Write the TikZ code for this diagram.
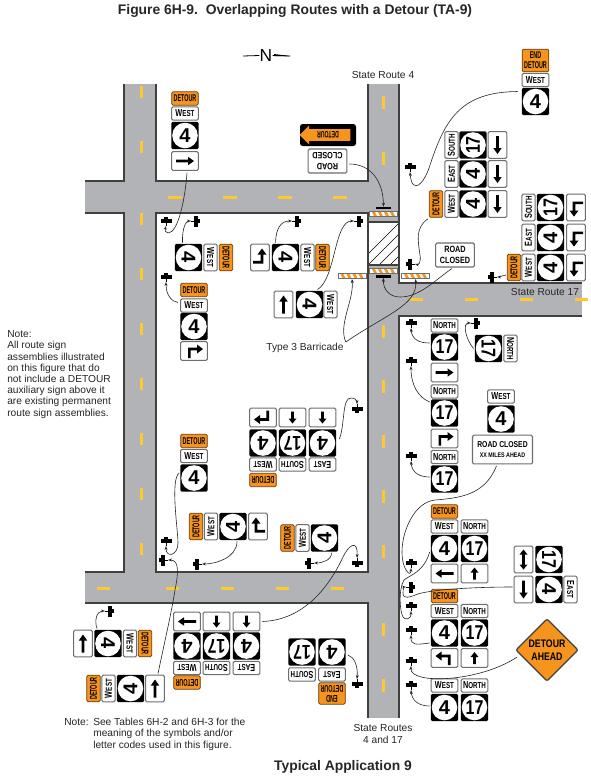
\documentclass[tikz,border=0pt]{standalone}
\usepackage{fontspec}
\setmainfont{Liberation Sans}
\newfontfamily\signfont[FakeStretch=0.72]{Liberation Sans}
\newfontfamily\detfont[FakeStretch=0.55]{Liberation Sans}
\newfontfamily\closedfont[FakeStretch=0.8]{Liberation Sans}
\usetikzlibrary{arrows.meta,shapes.geometric,shapes.arrows}
\definecolor{roadgray}{HTML}{B1B3B6}
\definecolor{plategray}{HTML}{6D6E71}
\definecolor{detorange}{HTML}{F7941D}
\definecolor{dashyellow}{HTML}{FFC82E}
\newcommand{\capword}[2]{{\fontsize{7.6}{8}\selectfont #1}#2}
\newcommand{\postmark}[4]{%
  \begin{scope}[shift={(#2,#3)},rotate=#4]
    \fill[black] (-5.5,-1.7) rectangle (5.5,1.7);
    \fill[black] (-1.6,-4) rectangle (1.6,2.4);
    \fill[black] (-0.4,0) rectangle (0.4,5);
    \coordinate (#1) at (0,5);
  \end{scope}}
\tikzset{
  plate/.style={draw=plategray,fill=white,rounded corners=1pt,line width=0.8pt,minimum width=20pt,minimum height=10pt,inner sep=0pt,font=\signfont\bfseries\fontsize{6.5}{7}\selectfont},
  detplate/.style={plate,fill=detorange,draw=black!60!detorange,line width=0.6pt,font=\detfont\bfseries\fontsize{7.4}{7.4}\selectfont},
  arrowplate/.style={plate,minimum height=14pt},
  shield/.style={fill=black,rounded corners=1pt,minimum size=20.4pt,inner sep=0pt,font=\bfseries\fontsize{15}{15}\selectfont,path picture={\fill[white] (path picture bounding box.center) circle (9.6pt);}},
  shieldtwo/.style={shield,font=\closedfont\bfseries\fontsize{15}{15}\selectfont},
  closedplate/.style={plate,minimum width=29pt,minimum height=18pt,align=center,font=\closedfont\bfseries\fontsize{6.8}{8.4}\selectfont},
  conn/.style={draw=black!85,line width=0.45pt,-{Stealth[length=3pt,width=2.2pt]}},
  roadedge/.style={draw=black!75,line width=0.8pt},
  barricade/.style={draw=plategray,fill=white,minimum width=21pt,minimum height=4pt,inner sep=0pt,line width=0.5pt,path picture={
    \begin{scope}[shift={(path picture bounding box.center)}]
      \foreach \k in {-12,-6,0,6} \fill[detorange] (\k,-3) -- (\k+3,-3) -- (\k+6,3) -- (\k+3,3) -- cycle;
    \end{scope}}},
  barmark/.style={fill=black,minimum width=11pt,minimum height=1.6pt,inner sep=0pt},
  label/.style={font=\fontsize{7.65}{8.4}\selectfont,text=black!85,inner sep=0pt},
  longarrow/.pic={\fill[black] (-9,-1.3) -- (3,-1.3) -- (3,-4.2) -- (9,0) -- (3,4.2) -- (3,1.3) -- (-9,1.3) -- cycle;},
  shortarrow/.pic={\fill[black] (-1.3,6) -- (-1.3,-1) -- (-4,-1) -- (0,-6) -- (4,-1) -- (1.3,-1) -- (1.3,6) -- cycle;},
  twinarrow/.pic={\fill[black] (-5,-1.3) -- (5,-1.3) -- (5,-4) -- (10,0) -- (5,4) -- (5,1.3) -- (-5,1.3) -- (-5,4) -- (-10,0) -- (-5,-4) -- cycle;},
  turnright/.pic={\fill[black] (-6,7) -- (-6,-3.3) -- (3,-3.3) -- (3,-6.5) -- (9,-2) -- (3,2.5) -- (3,-0.7) -- (-3.4,-0.7) -- (-3.4,7) -- cycle;},
  turnleft/.pic={\fill[black] (6,7) -- (6,-3.3) -- (-3,-3.3) -- (-3,-6.5) -- (-9,-2) -- (-3,2.5) -- (-3,-0.7) -- (3.4,-0.7) -- (3.4,7) -- cycle;},
}
\begin{document}
\begin{tikzpicture}[x=0.75pt,y=-0.75pt]
\useasboundingbox (0,0) rectangle (590,783);
\fill[white] (0,0) rectangle (590,783);
% roads
\fill[roadgray] (124,84) rectangle (156,603);
\fill[roadgray] (85,181) rectangle (399,213);
\fill[roadgray] (85,572) rectangle (399,603);
\fill[roadgray] (368,84) rectangle (399,718);
\fill[roadgray] (399,283) rectangle (582,316);
\draw[roadedge] (124,84) -- (124,181) -- (85,181);
\draw[roadedge] (156,84) -- (156,181) -- (368,181) -- (368,84);
\draw[roadedge] (85,213) -- (124,213) -- (124,572) -- (85,572);
\draw[roadedge] (156,213) -- (368,213) -- (368,572) -- (156,572) -- cycle;
\draw[roadedge] (85,603) -- (368,603) -- (368,718);
\draw[roadedge] (399,84) -- (399,283) -- (582,283);
\draw[roadedge] (582,316) -- (399,316) -- (399,718);
\foreach \y in {86,141,213,268,323,378,433,488,543} \fill[dashyellow] (139.5,\y) rectangle (142.5,\y+12);
\foreach \y in {96,152,325,380,435,490,545,623,679} \fill[dashyellow] (381.5,\y) rectangle (384.5,\y+13);
\foreach \x in {168,223,278,333} \fill[dashyellow] (\x,195.5) rectangle (\x+14,198.5);
\foreach \x in {410,465,520,575} \fill[dashyellow] (\x,297.5) rectangle (\x+13,300.5);
\foreach \x in {97,166,221,276,331} \fill[dashyellow] (\x,586.5) rectangle (\x+13,589.5);
% closed section
\fill[white] (368,222) rectangle (399,265);
\begin{scope}
  \clip (368,222) rectangle (399,265);
  \foreach \k in {0,...,7} \draw[black,line width=0.5pt] (356+\k*11,266) -- (356+\k*11+45,221);
\end{scope}
\draw[roadedge] (368,222) rectangle (399,265);
\node[barricade] (bara) at (383.5,214) {};
\node[barricade] (barb) at (383.5,271) {};
\node[barricade] (barc) at (352,276) {};
\node[barricade] (bard) at (415.5,276) {};
\node[barmark] (marka) at (383.5,208) {};
\node[barmark] (markb) at (383.5,276.5) {};
% north arrow
\node[font=\fontsize{13}{13}\selectfont,inner sep=0pt] (northmark) at (266,55.5) {N};
\coordinate (northw) at (243,56);
\coordinate (northe) at (290,56);
\draw[black,line width=0.6pt] (northw) -- (northmark.west);
\draw[black,line width=0.6pt] (northmark.east) -- (northe);
\fill[black] (274,54) -- (290,56) -- (274,56) -- cycle;
% end detour, top right
\node[detplate,minimum height=17pt,align=center] (enda) at (535.5,60.5) {END\\DETOUR};
\node[plate] (endb) at (535.5,80) {\capword{W}{EST}};
\node[shield] (endc) at (535.5,101.5) {4};
% three rows at the closure
\node[plate,rotate=90] (rowa) at (451.5,145) {\capword{S}{OUTH}};
\node[shieldtwo,rotate=90] (rowb) at (473,145) {17};
\node[arrowplate,rotate=90] (rowc) at (497.5,145) {};
\pic[rotate=-90] at (rowc) {longarrow};
\node[plate,rotate=90] (rowd) at (451.5,174) {\capword{E}{AST}};
\node[shield,rotate=90] (rowe) at (473,174) {4};
\node[arrowplate,rotate=90] (rowf) at (497.5,174) {};
\pic[rotate=-90] at (rowf) {longarrow};
\node[detplate,rotate=90] (rowg) at (436,204) {DETOUR};
\node[plate,rotate=90] (rowh) at (451.5,204) {\capword{W}{EST}};
\node[shield,rotate=90] (rowi) at (473,204) {4};
\node[arrowplate,rotate=90] (rowj) at (497.5,204) {};
\pic[rotate=-90] at (rowj) {longarrow};
% rows at route 17
\node[plate,rotate=90] (turna) at (528.5,207.5) {\capword{S}{OUTH}};
\node[shieldtwo,rotate=90] (turnb) at (550.5,207.5) {17};
\node[arrowplate,rotate=90] (turnc) at (576,207.5) {};
\pic[rotate=90] at (turnc) {turnleft};
\node[plate,rotate=90] (turnd) at (528.5,237.5) {\capword{E}{AST}};
\node[shield,rotate=90] (turne) at (550.5,237.5) {4};
\node[arrowplate,rotate=90] (turnf) at (576,237.5) {};
\pic[rotate=90] at (turnf) {turnleft};
\node[detplate,rotate=90] (turng) at (514,267.5) {DETOUR};
\node[plate,rotate=90] (turnh) at (528.5,267.5) {\capword{W}{EST}};
\node[shield,rotate=90] (turni) at (550.5,267.5) {4};
\node[arrowplate,rotate=90] (turnj) at (576,267.5) {};
\pic[rotate=90] at (turnj) {turnleft};
% closure signs
\node[fill=black,rounded corners=2pt,minimum width=42pt,minimum height=16.5pt,inner sep=0pt] (blacksign) at (328,135) {};
\node[single arrow,fill=detorange,rotate=180,minimum height=38pt,minimum width=14pt,single arrow head extend=1.5pt,inner sep=0pt,font=\detfont\bfseries\fontsize{7}{7}\selectfont] (detarrow) at (328,135) {DETOUR};
\node[closedplate,rotate=180] (closeda) at (327.5,161) {ROAD\\CLOSED};
\node[closedplate] (closedb) at (455,255) {ROAD\\CLOSED};
% top left assembly
\node[detplate] (lefta) at (185,98.5) {DETOUR};
\node[plate] (leftb) at (185,113.5) {\capword{W}{EST}};
\node[shield] (leftc) at (185,135.5) {4};
\node[arrowplate] (leftd) at (185,161) {};
\pic at (leftd) {longarrow};
% inside the block, upper
\node[shield,rotate=-90] (blockc) at (188.5,257.5) {4};
\node[plate,rotate=-90] (blockb) at (210.5,257.5) {\capword{W}{EST}};
\node[detplate,rotate=-90] (blocka) at (226,257.5) {DETOUR};
\node[arrowplate,rotate=-90] (nextd) at (260,257.5) {};
\pic[rotate=-90] at (nextd) {turnleft};
\node[shield,rotate=-90] (nextc) at (285.5,257.5) {4};
\node[plate,rotate=-90] (nextb) at (307.5,257.5) {\capword{W}{EST}};
\node[detplate,rotate=-90] (nexta) at (322.5,257.5) {DETOUR};
\node[arrowplate,rotate=-90] (thrud) at (283.5,304.5) {};
\pic[rotate=90] at (thrud) {longarrow};
\node[shield,rotate=-90] (thruc) at (309.5,304.5) {4};
\node[plate,rotate=-90] (thrub) at (330.5,304.5) {\capword{W}{EST}};
\node[detplate] (sidea) at (194,290) {DETOUR};
\node[plate] (sideb) at (194,305.5) {\capword{W}{EST}};
\node[shield] (sidec) at (194,326.5) {4};
\node[arrowplate] (sided) at (194,351) {};
\pic at (sided) {turnright};
% inside the block, lower
\node[detplate] (lowa) at (194,441) {DETOUR};
\node[plate] (lowb) at (194,456) {\capword{W}{EST}};
\node[shield] (lowc) at (194,478) {4};
\node[detplate,rotate=90] (crossa) at (196,526.5) {DETOUR};
\node[plate,rotate=90] (crossb) at (211,526.5) {\capword{W}{EST}};
\node[shield,rotate=90] (crossc) at (233,526.5) {4};
\node[arrowplate,rotate=90] (crossd) at (258,526.5) {};
\pic[rotate=90] at (crossd) {turnright};
\node[detplate,rotate=90] (neara) at (287.5,538) {DETOUR};
\node[plate,rotate=90] (nearb) at (302.5,538) {\capword{W}{EST}};
\node[shield,rotate=90] (nearc) at (324.5,538) {4};
\node[detplate,rotate=180] (uppa) at (263,480) {DETOUR};
\node[plate,rotate=180] (uppb) at (263,464.5) {\capword{W}{EST}};
\node[shield,rotate=180] (uppc) at (263,443) {4};
\node[arrowplate,rotate=180] (uppd) at (263,417.5) {};
\pic[rotate=180] at (uppd) {turnright};
\node[plate,rotate=180] (uppe) at (292.5,464.5) {\capword{S}{OUTH}};
\node[shieldtwo,rotate=180] (uppf) at (292.5,443) {17};
\node[arrowplate,rotate=180] (uppg) at (292.5,417.5) {};
\pic[rotate=180] at (uppg) {shortarrow};
\node[plate,rotate=180] (upph) at (322.5,464.5) {\capword{E}{AST}};
\node[shield,rotate=180] (uppi) at (322.5,443) {4};
\node[arrowplate,rotate=180] (uppj) at (322.5,417.5) {};
\pic[rotate=180] at (uppj) {shortarrow};
% right side, route 17
\node[plate] (norta) at (444.5,325.5) {\capword{N}{ORTH}};
\node[shieldtwo] (nortb) at (444.5,347) {17};
\node[arrowplate] (nortc) at (444.5,372.5) {};
\pic at (nortc) {longarrow};
\node[plate] (nortd) at (444.5,391.5) {\capword{N}{ORTH}};
\node[shieldtwo] (norte) at (444.5,413) {17};
\node[arrowplate] (nortf) at (444.5,438.5) {};
\pic at (nortf) {turnright};
\node[plate] (nortg) at (444.5,457) {\capword{N}{ORTH}};
\node[shieldtwo] (north) at (444.5,479) {17};
\node[shieldtwo,rotate=-90] (sidenb) at (488.5,348.5) {17};
\node[plate,rotate=-90] (sidena) at (510.5,348.5) {\capword{N}{ORTH}};
\node[plate] (aheada) at (501,396.5) {\capword{W}{EST}};
\node[shield] (aheadb) at (501,419) {4};
\node[plate,minimum width=45pt,minimum height=21.5pt,align=center,font=\closedfont\bfseries\fontsize{6.4}{8}\selectfont] (aheadc) at (502.5,449.5) {ROAD CLOSED\\{\fontsize{5}{6}\selectfont XX MILES AHEAD}};
% right side, both routes
\node[detplate] (botha) at (444.5,511.5) {DETOUR};
\node[plate] (bothb) at (444.5,526.5) {\capword{W}{EST}};
\node[plate] (bothc) at (474.5,526.5) {\capword{N}{ORTH}};
\node[shield] (bothd) at (444.5,548.5) {4};
\node[shieldtwo] (bothe) at (474.5,548.5) {17};
\node[arrowplate] (bothf) at (444.5,573.5) {};
\pic[rotate=180] at (bothf) {longarrow};
\node[arrowplate] (bothg) at (474.5,573.5) {};
\pic at (bothg) {shortarrow};
\node[detplate] (turnwa) at (444.5,596) {DETOUR};
\node[plate] (turnwb) at (444.5,611) {\capword{W}{EST}};
\node[plate] (turnwc) at (474.5,611) {\capword{N}{ORTH}};
\node[shield] (turnwd) at (444.5,633) {4};
\node[shieldtwo] (turnwe) at (474.5,633) {17};
\node[arrowplate] (turnwf) at (444.5,658) {};
\pic at (turnwf) {turnleft};
\node[arrowplate] (turnwg) at (474.5,658) {};
\pic at (turnwg) {shortarrow};
\node[plate] (lasta) at (444.5,685.5) {\capword{W}{EST}};
\node[plate] (lastb) at (474.5,685.5) {\capword{N}{ORTH}};
\node[shield] (lastc) at (444.5,707.5) {4};
\node[shieldtwo] (lastd) at (474.5,707.5) {17};
\node[arrowplate,rotate=-90] (easta) at (523.5,559.5) {};
\pic[rotate=90] at (easta) {twinarrow};
\node[shieldtwo,rotate=-90] (eastb) at (549,559.5) {17};
\node[arrowplate,rotate=-90] (eastc) at (523.5,589.5) {};
\pic[rotate=-90] at (eastc) {longarrow};
\node[shield,rotate=-90] (eastd) at (549,589.5) {4};
\node[plate,rotate=-90] (easte) at (570.5,589.5) {\capword{E}{AST}};
\node[diamond,fill=detorange,draw=black!75,line width=0.9pt,rounded corners=1.5pt,minimum width=47pt,minimum height=47pt,inner sep=0pt,align=center,font=\closedfont\bfseries\fontsize{8.2}{9.8}\selectfont] (ahead) at (547,650) {DETOUR\\AHEAD};
% bottom left
\node[arrowplate,rotate=-90] (westd) at (83,643.5) {};
\pic[rotate=90] at (westd) {longarrow};
\node[shield,rotate=-90] (westc) at (108,643.5) {4};
\node[plate,rotate=-90] (westb) at (130,643.5) {\capword{W}{EST}};
\node[detplate,rotate=-90] (westa) at (145,643.5) {DETOUR};
\node[detplate,rotate=90] (foota) at (93.5,688.5) {DETOUR};
\node[plate,rotate=90] (footb) at (108.5,688.5) {\capword{W}{EST}};
\node[shield,rotate=90] (footc) at (130.5,688.5) {4};
\node[arrowplate,rotate=90] (footd) at (155,688.5) {};
\pic[rotate=90] at (footd) {longarrow};
\node[arrowplate,rotate=180] (dowa) at (187,621.5) {};
\pic[rotate=180] at (dowa) {longarrow};
\node[shield,rotate=180] (dowb) at (187,646) {4};
\node[plate,rotate=180] (dowc) at (187,668) {\capword{W}{EST}};
\node[detplate,rotate=180] (dowd) at (187,682.5) {DETOUR};
\node[arrowplate,rotate=180] (dowe) at (216.5,621.5) {};
\pic[rotate=180] at (dowe) {shortarrow};
\node[shieldtwo,rotate=180] (dowf) at (216.5,646) {17};
\node[plate,rotate=180] (dowg) at (216.5,668) {\capword{S}{OUTH}};
\node[arrowplate,rotate=180] (dowh) at (246.5,621.5) {};
\pic[rotate=180] at (dowh) {shortarrow};
\node[shield,rotate=180] (dowi) at (246.5,646) {4};
\node[plate,rotate=180] (dowj) at (246.5,668) {\capword{E}{AST}};
\node[shieldtwo,rotate=180] (endsa) at (302,652) {17};
\node[shield,rotate=180] (endsb) at (332,652) {4};
\node[plate,rotate=180] (endsc) at (302,674.5) {\capword{S}{OUTH}};
\node[plate,rotate=180] (endsd) at (332,674.5) {\capword{E}{AST}};
\node[detplate,rotate=180,minimum height=16pt,align=center] (endse) at (332,693.5) {END\\DETOUR};
% posts
\postmark{pendw}{410}{167}{0}
\postmark{prow}{410}{264}{90}
\postmark{pturn}{492}{277}{90}
\postmark{pleft}{166}{221}{0}
\postmark{pblock}{196}{221}{-90}
\postmark{pnext}{297}{221}{-90}
\postmark{pthru}{359}{221}{-90}
\postmark{pside}{166}{277}{0}
\postmark{pnorta}{411}{323}{0}
\postmark{pnortb}{411}{361}{0}
\postmark{pnortc}{411}{456}{0}
\postmark{psiden}{476}{323}{-90}
\postmark{pupp}{357}{409}{180}
\postmark{plow}{166}{541}{0}
\postmark{pfoot}{163}{560}{90}
\postmark{pcross}{197}{564}{90}
\postmark{pnear}{309}{563}{90}
\postmark{pdow}{357}{563}{180}
\postmark{pwest}{110}{611}{-90}
\postmark{pends}{357}{684}{180}
\postmark{pahead}{411}{563}{0}
\postmark{peast}{411}{587}{-90}
\postmark{pboth}{411}{606}{0}
\postmark{pturnw}{411}{630}{0}
\postmark{pdia}{411}{661}{0}
\postmark{plast}{411}{685}{0}
% labels
\node[font=\bfseries\fontsize{10.4}{12}\selectfont,text=black!85,inner sep=0pt] (title) at (295,11) {Figure 6H-9.\ \ Overlapping Routes with a Detour (TA-9)};
\node[font=\bfseries\fontsize{10.4}{12}\selectfont,text=black!85,inner sep=0pt] (caption) at (343,767) {Typical Application 9};
\node[label] (routefour) at (383,75) {State Route 4};
\node[label] (routeseven) at (545,292) {State Route 17};
\node[label] (typethree) at (305,348) {Type 3 Barricade};
\node[label,align=center] (routeboth) at (383,734) {State Routes\\4 and 17};
\node[label,anchor=north west,align=left] (notea) at (7,330.5) {Note:\\All route sign\\assemblies illustrated\\on this figure that do\\not include a DETOUR\\auxiliary sign above it\\are existing permanent\\route sign assemblies.};
\node[label,anchor=north west] (noteb) at (64,718) {Note:};
\node[label,anchor=north west,align=left] (notec) at (93,718) {See Tables 6H-2 and 6H-3 for the\\meaning of the symbols and/or\\letter codes used in this figure.};
% connectors
\draw[conn] ([shift={(-4,-10)}]endc.west) .. controls (460,92) and (445,120) .. (430,165) .. controls (424,185) and (412,195) .. (pendw);
\draw[conn] ([shift={(-8,1)}]rowg.west) .. controls (415,228) and (418,240) .. (420,255) .. controls (421,262) and (419,265) .. (prow);
\draw[conn] ([shift={(-1,7.5)}]turng.north) .. controls (503,275) and (501,277) .. (pturn);
\draw[conn] ([shift={(2,3)}]closeda.west) .. controls (370,164) and (383,180) .. (marka.north);
\draw[conn] ([shift={(-3,1)}]closedb.south) .. controls (435,280) and (420,297) .. (400,297) .. controls (390,297) and (383,290) .. (markb.south);
\draw[conn] ([shift={(2,-1)}]typethree.north east) .. controls (338,325) and (354,300) .. (barc.south);
\draw[conn] ([shift={(2,-1)}]typethree.north east) .. controls (385,315) and (418,305) .. (bard.south);
\draw[conn] ([shift={(2,2)}]leftd.south) .. controls (185,200) and (178,233) .. (168,233) .. controls (165,233) and (165,230) .. (pleft);
\draw[conn] ([shift={(-6,-1)}]blockc.west) .. controls (182,228) and (186,221) .. (pblock);
\draw[conn] ([shift={(-10,-1)}]nextc.west) .. controls (276,228) and (281,221) .. (pnext);
\draw[conn] ([shift={(8,-1)}]thruc.west) .. controls (336,278) and (334,221) .. (pthru);
\draw[conn] ([shift={(-2,-3)}]sideb.west) .. controls (172,302) and (166,295) .. (pside);
\draw[conn] ([shift={(-1,-4)}]nortb.west) .. controls (420,343) and (412,340) .. (pnorta);
\draw[conn] ([shift={(-1,-11)}]norte.west) .. controls (418,397) and (411,385) .. (pnortb);
\draw[conn] ([shift={(-1,-2)}]north.west) .. controls (420,477) and (412,473) .. (pnortc);
\draw[conn] ([shift={(-1,0)}]sidenb.south) .. controls (466,340) and (462,323) .. (psiden);
\draw[conn] ([shift={(-6,1.5)}]aheadc.south) .. controls (485,495) and (460,498) .. (435,500) .. controls (415,502) and (402,530) .. (402,552) .. controls (402,570) and (411,578) .. (pahead);
\draw[conn] ([shift={(-1,3.5)}]bothd.west) .. controls (424,572) and (410,575) .. (404,580) .. controls (398,590) and (400,612) .. (403,617) .. controls (405,620) and (411,620) .. (pboth);
\draw[conn] ([shift={(-1,-2.5)}]eastc.south) .. controls (470,587) and (430,590) .. (418,594) .. controls (410,597) and (403,600) .. (403,593) .. controls (403,589) and (404,587) .. (peast);
\draw[conn] ([shift={(-1,10)}]turnwd.west) .. controls (415,645) and (411,645) .. (pturnw);
\draw[conn] ([shift={(2,7)}]ahead.west) .. controls (480,682) and (410,685) .. (pdia);
\draw[conn] ([shift={(-1,-1.5)}]lastc.west) .. controls (418,706) and (412,700) .. (plast);
\draw[conn] ([shift={(-11,-1)}]westc.west) .. controls (94,620) and (97,611) .. (pwest);
\draw[conn] ([shift={(3,-1)}]footd.east) .. controls (165,640) and (172,610) .. (175,590) .. controls (178,575) and (180,560) .. (pfoot);
\draw[conn] ([shift={(2,0)}]dowh.west) .. controls (305,620) and (330,585) .. (343,557) .. controls (348,546) and (358,538) .. (pdow);
\draw[conn] ([shift={(7,1)}]nearc.west) .. controls (332,560) and (322,563) .. (pnear);
\draw[conn] ([shift={(4,1)}]crossc.west) .. controls (237,558) and (215,564) .. (pcross);
\draw[conn] ([shift={(-1,-5)}]lowc.west) .. controls (170,480) and (178,530) .. (178,543) .. controls (178,556) and (166,558) .. (plow);
\draw[conn] ([shift={(3,-4)}]uppi.west) .. controls (345,425) and (342,397) .. (351,398) .. controls (355,398) and (357,400) .. (pupp);
\draw[conn] ([shift={(2,3)}]endsb.west) .. controls (354,657) and (358,665) .. (pends);
\end{tikzpicture}
\end{document}
